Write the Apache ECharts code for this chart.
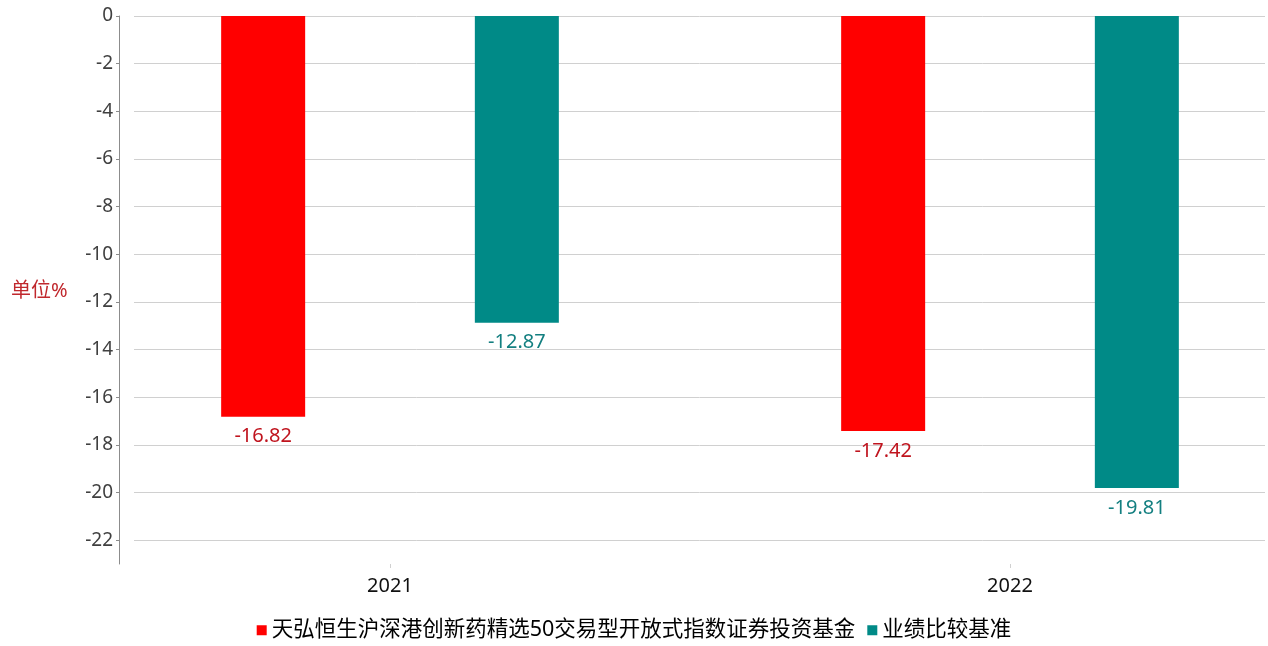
<!DOCTYPE html>
<html>
<head>
<meta charset="utf-8">
<script src="https://cdn.jsdelivr.net/npm/echarts@6/dist/echarts.min.js"></script>
<style>
html,body{margin:0;padding:0;background:#fff;}
#c{width:1268px;height:646px;}
</style>
</head>
<body>
<div id="c"></div>
<script>
const categories = ['2021', '2022'];
const seriesNames = ['天弘恒生沪深港创新药精选50交易型开放式指数证券投资基金', '业绩比较基准'];
const fundValues = [-16.82, -17.42];
const benchValues = [-12.87, -19.81];
const yTicks = [0, -2, -4, -6, -8, -10, -12, -14, -16, -18, -20, -22];

const FONT = '"Noto Sans", "Noto Sans CJK SC", sans-serif';
const chart = echarts.init(document.getElementById('c'));
chart.setOption({
  animation: false,
  backgroundColor: '#fff',
  title: {
    text: '单位%', left: 6, top: 276,
    textStyle: { color: '#c0282d', fontSize: 20, fontWeight: 'normal', fontFamily: FONT }
  },
  legend: {
    bottom: 0, left: 'center',
    itemWidth: 10, itemHeight: 10, itemGap: 12,
    icon: 'rect',
    textStyle: { fontSize: 21.5, color: '#000', fontFamily: FONT },
    data: seriesNames
  },
  grid: [
    { left: 134, right: 3, top: 16, bottom: 82, outerBoundsMode: 'none' },
    { left: 80, width: 1240, top: 16, bottom: 82, outerBoundsMode: 'none' }
  ],
  xAxis: [
    { type: 'category', gridIndex: 0, data: categories, show: false },
    {
      type: 'category', gridIndex: 1, data: categories,
      axisLine: { show: false, onZero: false },
      axisTick: { show: true, alignWithLabel: true, length: 4, lineStyle: { color: '#d0d0d0' } },
      axisLabel: { fontSize: 20, color: '#111', margin: 12, fontFamily: FONT },
      splitLine: { show: false }
    }
  ],
  yAxis: [
    {
      type: 'value', gridIndex: 0, min: -23, max: 0, offset: 15,
      axisLine: { show: true, lineStyle: { color: '#8c8c8c' } },
      axisTick: { show: true, length: 3, customValues: yTicks, lineStyle: { color: '#8c8c8c' } },
      axisLabel: { customValues: yTicks, fontSize: 19, color: '#404040', margin: 6, fontFamily: FONT },
      splitLine: { show: true, lineStyle: { color: '#d0d0d0', width: 1 } }
    },
    { type: 'value', gridIndex: 1, min: -23, max: 0, show: false, splitLine: { show: false } }
  ],
  series: [
    {
      name: seriesNames[0], type: 'bar', xAxisIndex: 1, yAxisIndex: 1,
      data: fundValues, barWidth: 84, barGap: '202%',
      itemStyle: { color: '#ff0000' },
      label: { show: true, position: 'bottom', distance: 10, color: '#c0141e', fontSize: 20, fontFamily: FONT }
    },
    {
      name: seriesNames[1], type: 'bar', xAxisIndex: 1, yAxisIndex: 1,
      data: benchValues, barWidth: 84, barGap: '202%',
      itemStyle: { color: '#008a87' },
      label: { show: true, position: 'bottom', distance: 10, color: '#137f80', fontSize: 20, fontFamily: FONT }
    }
  ]
});
</script>
</body>
</html>
